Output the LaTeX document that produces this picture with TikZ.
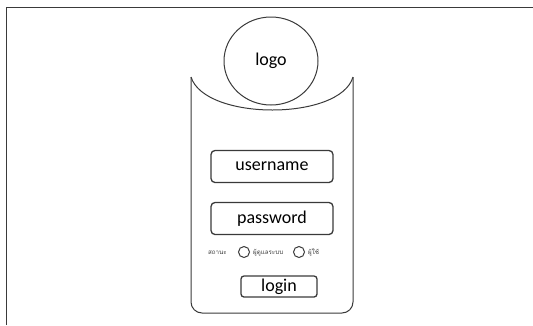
\documentclass[tikz,border=0pt]{standalone}
\usepackage{fontspec}
\setmainfont{Carlito}
\newfontfamily\thaifont[Script=Thai]{Loma}
\usetikzlibrary{shapes.geometric}
\definecolor{ln}{HTML}{3A3A3A}
\tikzset{
  field/.style={draw=ln, line width=1.3pt, rounded corners=4pt, minimum width=122pt, minimum height=32pt, inner sep=0pt, font=\fontsize{18}{18}\selectfont},
  btn/.style={draw=ln, line width=1.3pt, rounded corners=3pt, minimum width=76pt, minimum height=21pt, inner sep=0pt, font=\fontsize{18}{18}\selectfont},
  radio/.style={draw=ln, line width=1pt, circle, minimum size=11pt, inner sep=0pt},
  tlabel/.style={font=\thaifont\fontsize{6.2}{7}\selectfont, text=ln, inner sep=0pt, anchor=base west},
  body/.style={draw=ln, line width=1pt},
}
\begin{document}
\begin{tikzpicture}[x=1pt,y=-1pt]
\useasboundingbox (0,0) rectangle (533,325);
% outer frame
\draw[ln, line width=1.4pt] (6.5,325) -- (6.5,7.5) -- (533,7.5);
% body
\draw[body] (191,77) -- (191,302) arc[start angle=180, end angle=90, x radius=11pt, y radius=-11pt] -- (342,313) arc[start angle=90, end angle=0, x radius=11pt, y radius=-11pt] -- (353,77);
\draw[body] (191,77) .. controls (205,121) and (340,121) .. (353,77);
% logo
\node[ellipse, draw=ln, line width=1pt, minimum width=94pt, minimum height=88pt, inner sep=0pt, font=\fontsize{18}{18}\selectfont] (logo) at (271,61) {logo};
% fields
\node[field] (user) at (272,166.5) {username};
\node[field] (pass) at (272,218.5) {password};
% radio row
\node[tlabel] (status) at (208,254.5) {สถานะ};
\node[radio] (r1) at (244,252) {};
\node[tlabel] (admin) at (253,254.5) {ผู้ดูแลระบบ};
\node[radio] (r2) at (299,252) {};
\node[tlabel] (usr) at (308,254.5) {ผู้ใช้};
% login
\node[btn] (login) at (279,286.5) {login};
\end{tikzpicture}
\end{document}
